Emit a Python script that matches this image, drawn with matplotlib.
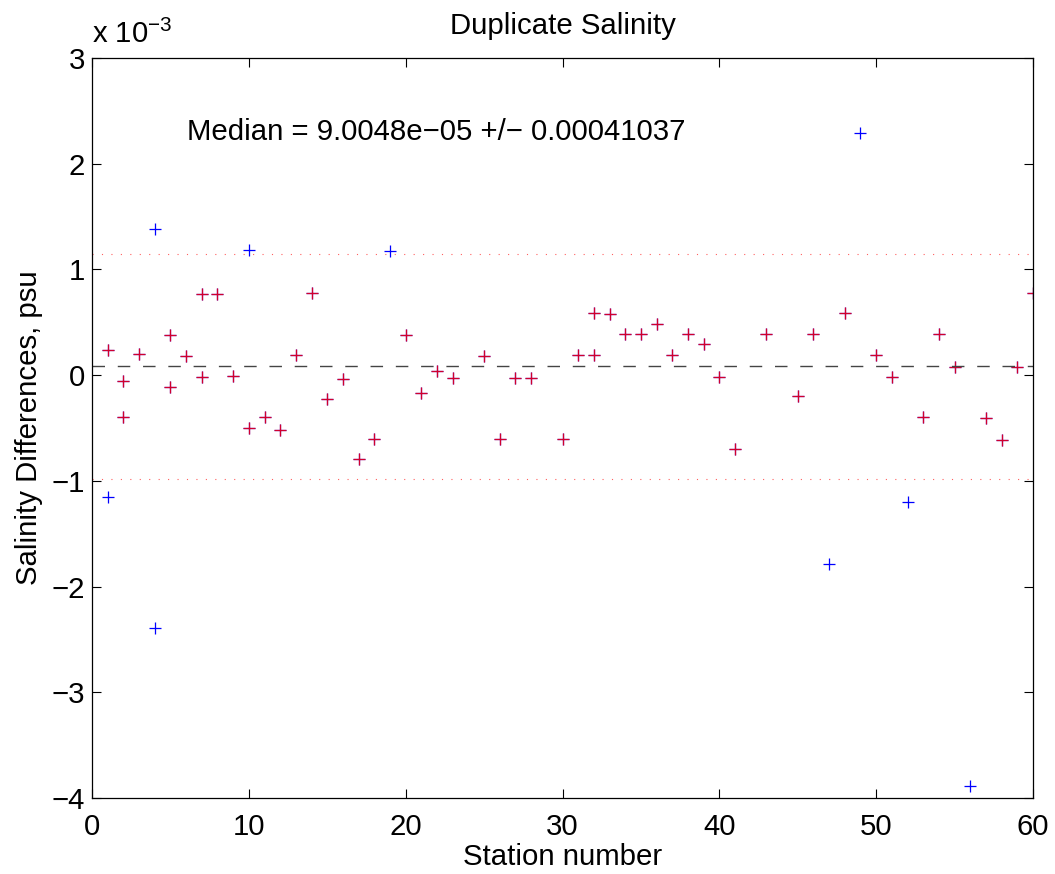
import matplotlib
matplotlib.use("Agg")
import matplotlib.pyplot as plt
from matplotlib.ticker import FuncFormatter

plt.rcParams['font.family'] = ['Liberation Sans', 'DejaVu Sans']
plt.rcParams['mathtext.fontset'] = 'custom'
plt.rcParams['mathtext.rm'] = 'Liberation Sans'
plt.rcParams['mathtext.it'] = 'Liberation Sans'

# ---- data (salinity differences in psu) ----
# all duplicate differences (blue)
all_station = [1, 1, 2, 2, 3, 4, 4, 5, 5, 6, 7, 7, 8, 9, 10, 10, 11, 12, 13, 14,
               15, 16, 17, 18, 19, 20, 21, 22, 23, 25, 26, 27, 28, 30, 31, 32, 32,
               33, 34, 35, 36, 37, 38, 39, 40, 41, 43, 45, 46, 47, 48, 49, 50, 51,
               52, 53, 54, 55, 56, 57, 58, 59, 60]
all_diff_e3 = [0.235, -1.15, -0.06, -0.40, 0.20, 1.38, -2.39, -0.115, 0.38, 0.185,
               0.77, -0.02, 0.77, -0.005, 1.18, -0.50, -0.40, -0.515, 0.19, 0.78,
               -0.225, -0.04, -0.79, -0.60, 1.17, 0.38, -0.17, 0.04, -0.03, 0.18,
               -0.60, -0.03, -0.03, -0.60, 0.19, 0.59, 0.19, 0.58, 0.39, 0.39, 0.48,
               0.19, 0.39, 0.29, -0.02, -0.70, 0.39, -0.20, 0.39, -1.79, 0.59, 2.29,
               0.19, -0.02, -1.20, -0.40, 0.39, 0.08, -3.89, -0.41, -0.61, 0.08, 0.78]
all_diff = [v * 1e-3 for v in all_diff_e3]

median_val = 9.0048e-05
upper_lim = 1.147e-3
lower_lim = -0.979e-3

# accepted differences within limits (red)
ok_station = [s for s, v in zip(all_station, all_diff) if lower_lim < v < upper_lim]
ok_diff = [v for v in all_diff if lower_lim < v < upper_lim]

x_ticks = [0, 10, 20, 30, 40, 50, 60]
y_ticks_e3 = [-4, -3, -2, -1, 0, 1, 2, 3]

FS = 21.2

# ---- figure ----
fig = plt.figure(figsize=(10.55, 8.74), dpi=100)
ax = fig.add_axes([92 / 1055, 76 / 874, (1033 - 92) / 1055, (798 - 58) / 874])

ax.plot(all_station, all_diff, linestyle='none', marker='+', color='#0000ff',
        markersize=9.2, markeredgewidth=0.9)
ax.plot(ok_station, ok_diff, linestyle='none', marker='+', color='#ff0000',
        alpha=0.82, markersize=9.2, markeredgewidth=0.95)

ax.axhline(median_val, color='#444444', linewidth=1.0, dashes=(9, 9.2))
ax.axhline(upper_lim, color='#ff6060', linewidth=0.8, dashes=(1, 7.5))
ax.axhline(lower_lim, color='#ff6060', linewidth=0.8, dashes=(1, 7.5))

ax.set_xlim(0, 60)
ax.set_ylim(-4e-3, 3e-3)
ax.set_xticks(x_ticks)
ax.set_yticks([v * 1e-3 for v in y_ticks_e3])
ax.yaxis.set_major_formatter(FuncFormatter(
    lambda v, p: f"{round(v * 1e3):d}".replace('-', '\u2212')))
ax.xaxis.set_major_formatter(FuncFormatter(lambda v, p: f"{int(round(v))}"))

ax.tick_params(direction='in', length=6.5, width=0.8, top=True, right=True,
               labelsize=FS, colors='black')
ax.tick_params(axis='x', pad=11)
ax.tick_params(axis='y', pad=5)
for sp in ax.spines.values():
    sp.set_linewidth(0.9)

ax.set_title('Duplicate Salinity', fontsize=FS, pad=17)
ax.set_xlabel('Station number', fontsize=FS, labelpad=1)
ax.set_ylabel('Salinity Differences, psu', fontsize=FS, labelpad=6)

ax.text(6.05, 2.3e-3, 'Median = 9.0048e\u221205 +/\u2212 0.00041037',
        fontsize=FS, va='center', ha='left')

ax.text(0.0, 1.012, 'x 10$^{\u22123}$', transform=ax.transAxes,
        fontsize=FS, va='bottom', ha='left')

fig.savefig('out.png', dpi=100)
